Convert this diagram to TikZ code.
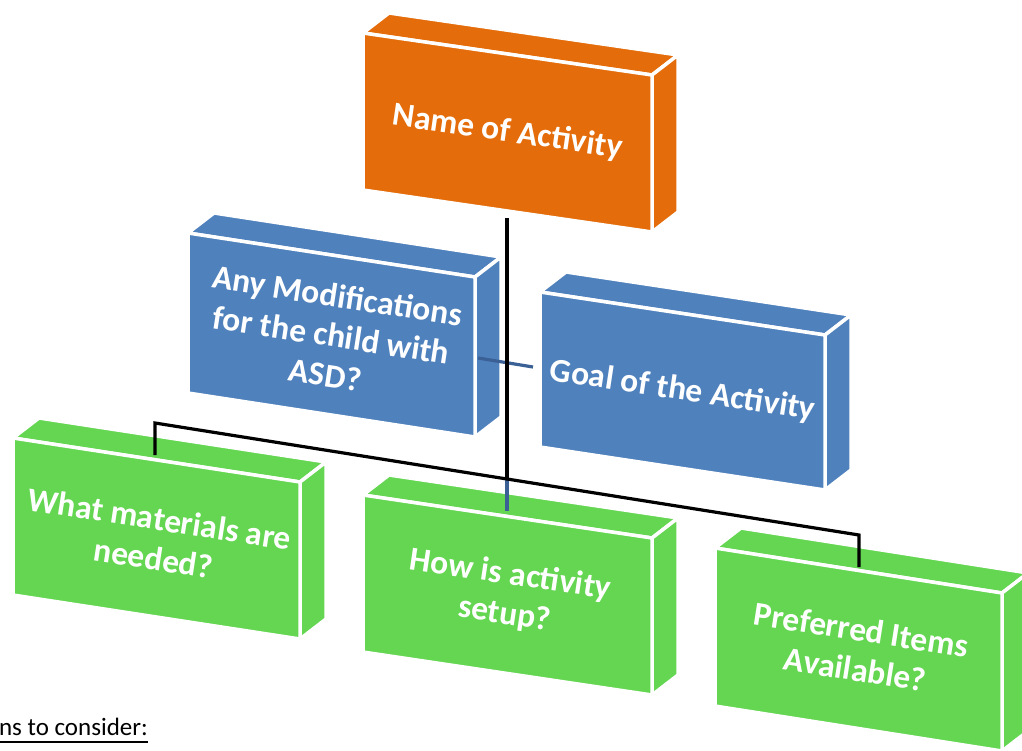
\documentclass[tikz,border=0pt]{standalone}
\usepackage{fontspec}
\setmainfont{Carlito}
\usetikzlibrary{calc}

\definecolor{actorange}{RGB}{228,108,10}
\definecolor{actblue}{RGB}{79,129,189}
\definecolor{actgreen}{RGB}{100,214,82}
\definecolor{linkblue}{RGB}{58,96,150}

\tikzset{
  face/.style={draw=white, line width=3.5pt, line join=round},
  slabtext/.style={text=white, align=center, inner sep=0pt,
    font=\fontsize{33.5}{40}\selectfont\bfseries},
  wire/.style={draw=black, line width=3.2pt},
  bluewire/.style={draw=linkblue, line width=3.2pt},
}

% A 3-D block seen slightly from above and the right:
% #1 name, (#2,#3) front top-left corner, #4 width, #5 height,
% #6 drop of the slanted top edge, #7 colour, #8 text
\newcommand\slab[8]{%
  \coordinate (#1-ftl) at (#2,#3);
  \coordinate (#1-ftr) at (#2+#4,#3+#6);
  \coordinate (#1-fbr) at (#2+#4,#3+#5+#6);
  \coordinate (#1-fbl) at (#2,#3+#5);
  \path[face, fill=#7] (#1-ftl) -- ++(26,-20) -- ($(#1-ftr)+(26,-20)$) -- (#1-ftr) -- cycle;
  \path[face, fill=#7] (#1-ftr) -- ++(26,-20) -- ($(#1-fbr)+(26,-20)$) -- (#1-fbr) -- cycle;
  \path[face, fill=#7] (#1-ftl) -- (#1-ftr) -- (#1-fbr) -- (#1-fbl) -- cycle;
  \node[slabtext, rotate={-atan(#6/#4)}] (#1) at ($(#1-ftl)!0.5!(#1-fbr)$) {#8};
}

\begin{document}
\begin{tikzpicture}[x=1pt, y=-1pt]
  \useasboundingbox (0,0) rectangle (1022,751);
  \clip (0,0) rectangle (1022,751);

  % blocks
  \slab{name}{363}{33}{289}{157}{42}{actorange}{Name of Activity}
  \slab{mods}{188}{233}{287}{160}{44}{actblue}{Any Modifications\\for the child with\\ASD?}
  \slab{goal}{540}{292}{285}{155}{43}{actblue}{Goal of the Activity}
  \slab{materials}{13}{438}{287}{157}{44}{actgreen}{What materials are\\needed?}
  \slab{setup}{363}{495}{289}{157}{43}{actgreen}{How is activity\\setup?}
  \slab{items}{715}{548}{287}{158}{45}{actgreen}{Preferred Items\\Available?}

  % connector points
  \coordinate (trunk-top) at (507,218);
  \coordinate (junction) at (507,479);
  \coordinate (bar-left) at (155,423);
  \coordinate (bar-right) at (859,535);
  \coordinate (materials-in) at (155,455);
  \coordinate (items-in) at (859,567);
  \coordinate (setup-in) at (507,511);
  \coordinate (mods-out) at (478,358);
  \coordinate (goal-in) at (533,367);

  % connectors
  \draw[bluewire] (mods-out) -- (goal-in);
  \draw[bluewire] (junction) -- (setup-in);
  \draw[wire] (trunk-top) -- (junction);
  \draw[wire] (materials-in) -- (bar-left) -- (bar-right) -- (items-in);

  % caption line below the chart
  \node[anchor=base east, inner sep=0pt, font=\fontsize{25}{30}\selectfont] (note) at (148,735) {ns to consider:};
  \draw[line width=2pt] ([yshift=-7pt]note.base west) -- ([yshift=-7pt]note.base east);
\end{tikzpicture}
\end{document}
